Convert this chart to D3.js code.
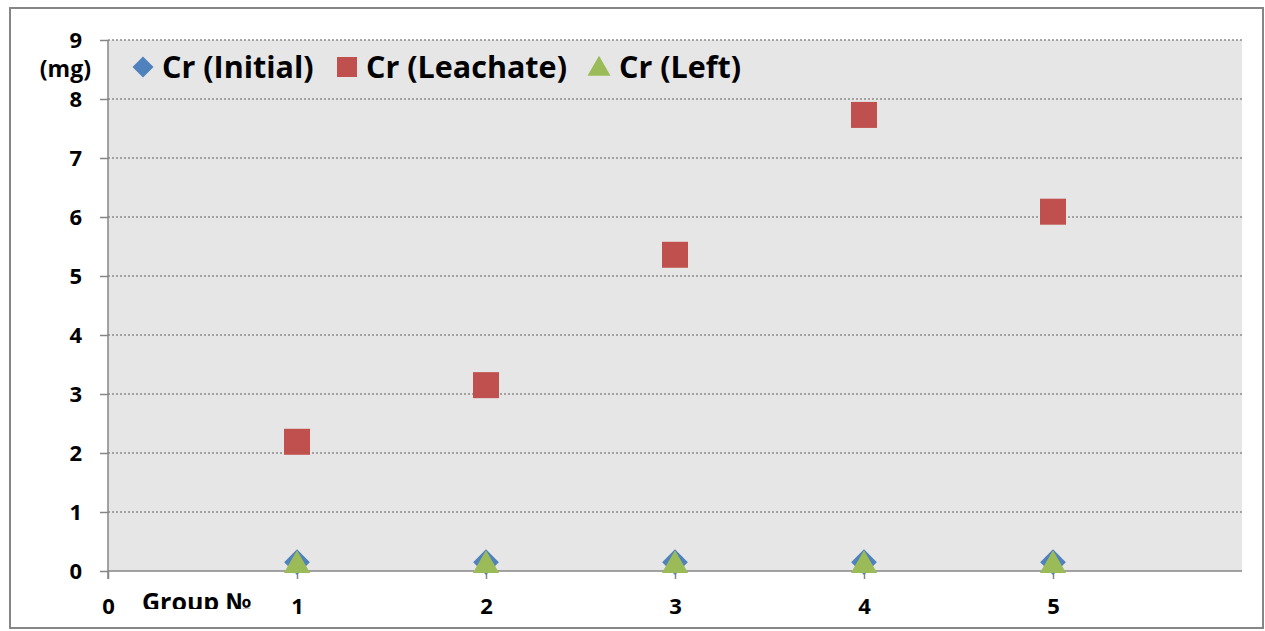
<!DOCTYPE html>
<html><head><meta charset="utf-8">
<script src="https://cdn.jsdelivr.net/npm/d3@7"></script>
<style>body{margin:0;background:#fff}svg{display:block}</style>
</head><body>
<svg id="c" width="1265" height="631"></svg>
<script>
const groups = [1, 2, 3, 4, 5];
const initialVals = [0.15, 0.15, 0.15, 0.15, 0.15];
const leachateVals = [2.19, 3.15, 5.36, 7.73, 6.09];
const leftVals = [0.13, 0.13, 0.13, 0.13, 0.13];
const yTicks = [0, 1, 2, 3, 4, 5, 6, 7, 8, 9];
const xTicks = [0, 1, 2, 3, 4, 5];
const seriesNames = ["Cr (Initial)", "Cr (Leachate)", "Cr (Left)"];

const svg = d3.select("#c");
const font = "'Open Sans', sans-serif";
const L = 108, R = 1242, T = 40, B = 571;
const x = d3.scaleLinear().domain([0, 6]).range([L, R]);
const y = d3.scaleLinear().domain([0, 9]).range([B, T]);

svg.append("rect").attr("x", 10).attr("y", 8).attr("width", 1253).attr("height", 620)
  .attr("fill", "#fff").attr("stroke", "#868686").attr("stroke-width", 2);

svg.append("rect").attr("x", L).attr("y", T).attr("width", R - L).attr("height", B - T).attr("fill", "#e6e6e6");

// gridlines
svg.append("g").selectAll("line").data(yTicks.filter(d => d > 0)).join("line")
  .attr("x1", L).attr("x2", R).attr("y1", d => y(d)).attr("y2", d => y(d))
  .attr("stroke", "#8c8c8c").attr("stroke-width", 1.3).attr("stroke-dasharray", "2,2");

// y axis
const yAxis = svg.append("g").attr("transform", `translate(${L},0)`)
  .call(d3.axisLeft(y).tickValues(yTicks).tickSize(8).tickPadding(18).tickFormat(d3.format("d")));
yAxis.select(".domain").attr("stroke", "#868686").attr("stroke-width", 1.5).attr("d", `M0,${T}V${B + 8}`);
yAxis.selectAll(".tick line").attr("stroke", "#868686").attr("stroke-width", 1.5);
yAxis.selectAll(".tick text").attr("font-family", font).attr("font-weight", "bold").attr("font-size", 22).attr("fill", "#000");

svg.append("text").attr("x", 91).attr("y", 77).attr("text-anchor", "end")
  .attr("font-family", font).attr("font-weight", "bold").attr("font-size", 23).text("(mg)");

// x axis
const xAxis = svg.append("g").attr("transform", `translate(0,${B})`)
  .call(d3.axisBottom(x).tickValues(xTicks).tickSize(8).tickPadding(19).tickFormat(d3.format("d")));
xAxis.select(".domain").attr("stroke", "#868686").attr("stroke-width", 1.5).attr("d", `M${L},0H${R}`);
xAxis.selectAll(".tick line").attr("stroke", "#868686").attr("stroke-width", 1.5);
xAxis.selectAll(".tick text").attr("font-family", font).attr("font-weight", "bold").attr("font-size", 22).attr("fill", "#000");

svg.append("clipPath").attr("id", "clipB").append("rect").attr("x", 0).attr("y", 0).attr("width", 1265).attr("height", 609);
svg.append("text").attr("x", 142).attr("y", 611).attr("clip-path", "url(#clipB)")
  .attr("font-family", font).attr("font-weight", "bold").attr("font-size", 25).text("Group №");

// markers
const sym = (type, size) => d3.symbol().type(type).size(size)();
const g = svg.append("g");
g.selectAll(".ini").data(groups).join("path").attr("class", "ini")
  .attr("transform", (d, i) => `translate(${x(d)},${y(initialVals[i])}) rotate(45)`)
  .attr("d", sym(d3.symbolSquare, 330)).attr("fill", "#4f81bd");
g.selectAll(".lea").data(groups).join("rect").attr("class", "lea")
  .attr("x", d => x(d) - 13).attr("y", (d, i) => y(leachateVals[i]) - 13)
  .attr("width", 26).attr("height", 26).attr("fill", "#c0504d");
g.selectAll(".lef").data(groups).join("path").attr("class", "lef")
  .attr("transform", (d, i) => `translate(${x(d)},${y(leftVals[i]) + 2})`)
  .attr("d", sym(d3.symbolTriangle, 300)).attr("fill", "#9bbb59");

// legend
const lg = svg.append("g").attr("font-family", font).attr("font-weight", "bold").attr("font-size", 30.5);
lg.append("path").attr("transform", "translate(143,67) rotate(45)").attr("d", sym(d3.symbolSquare, 220)).attr("fill", "#4f81bd");
lg.append("text").attr("x", 162).attr("y", 78).text(seriesNames[0]);
lg.append("rect").attr("x", 337).attr("y", 57).attr("width", 20).attr("height", 20).attr("fill", "#c0504d");
lg.append("text").attr("x", 366).attr("y", 78).text(seriesNames[1]);
lg.append("path").attr("transform", "translate(599,69)").attr("d", sym(d3.symbolTriangle, 230)).attr("fill", "#9bbb59");
lg.append("text").attr("x", 619).attr("y", 78).text(seriesNames[2]);
</script>
</body></html>
